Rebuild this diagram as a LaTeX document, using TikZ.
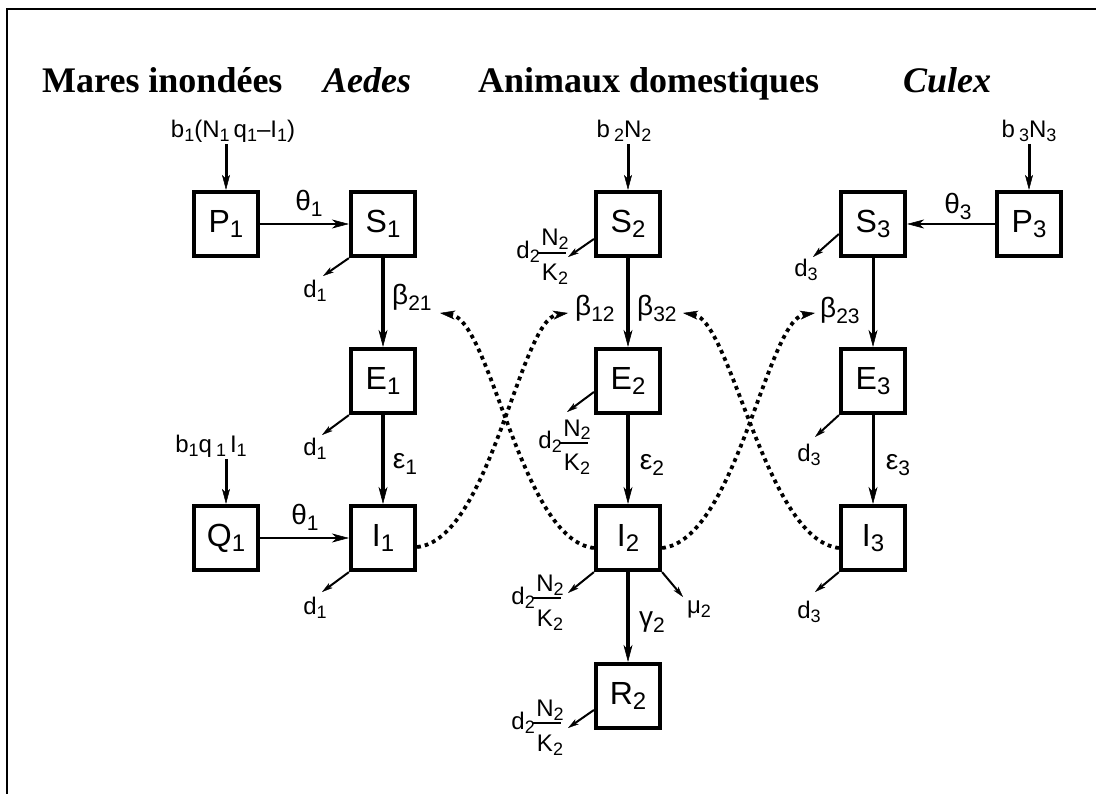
\documentclass[tikz,border=0pt]{standalone}
\usepackage{fontspec}
\setmainfont{Liberation Serif}
\newfontfamily\hv{Liberation Sans}
\usetikzlibrary{arrows.meta}

% lowered indices at three sizes
\newcommand\ibig[1]{\raisebox{-5pt}{\fontsize{24}{24}\selectfont #1}}
\newcommand\imid[1]{\raisebox{-6pt}{\fontsize{21}{21}\selectfont #1}}
\newcommand\isml[1]{\raisebox{-4pt}{\fontsize{18}{18}\selectfont #1}}

\tikzset{
  comp/.style={draw, line width=4.2pt, minimum size=64pt, inner sep=0pt,
    font=\hv\fontsize{32}{32}\selectfont},
  rate/.style={inner sep=0pt, font=\hv\fontsize{28}{28}\selectfont},
  small/.style={inner sep=0pt, font=\hv\fontsize{24}{24}\selectfont},
  feedlab/.style={inner sep=0pt, font=\hv\fontsize{24}{24}\selectfont},
  title/.style={inner sep=0pt, anchor=base west, font=\fontsize{36}{36}\selectfont\bfseries},
  flow/.style={line width=3.5pt, -{Stealth[length=17pt,width=9pt,inset=5pt,line width=0.5pt]}},
  hflow/.style={line width=2.6pt, -{Stealth[length=17pt,width=9pt,inset=5pt,line width=0.5pt]}},
  feed/.style={line width=3pt, -{Stealth[length=15pt,width=8pt,inset=4pt,line width=0.5pt]}},
  loss/.style={line width=2pt, -{Stealth[length=11pt,width=6pt,inset=3pt,line width=0.3pt]}},
  contact/.style={line width=3.8pt, dash pattern=on 3.8pt off 4pt,
    -{Stealth[length=15pt,width=9pt,inset=4pt,line width=0.5pt]}},
  dNK/.pic={
    \draw[line width=2.8pt] (-14,0) -- (14,0);
    \node[small, anchor=base] at (3,-7) {N\isml{2}};
    \node[small, anchor=base] at (3,28) {K\isml{2}};
    \node[small, anchor=base east] at (-12,6) {d\isml{2}};
  }
}

\begin{document}
\begin{tikzpicture}[x=1pt, y=-1pt]
\useasboundingbox (0,0) rectangle (1096,794);
\clip (0,0) rectangle (1096,794);
\fill[white] (0,0) rectangle (1096,794);
\draw[line width=2pt] (7,800) -- (7,9) -- (1100,9);

% headings
\node[title] (h1) at (42,93) {Mares inondées};
\node[title, font=\fontsize{36}{36}\selectfont\bfseries\itshape] (h2) at (323,93) {Aedes};
\node[title] (h3) at (478,93) {Animaux domestiques};
\node[title, font=\fontsize{36}{36}\selectfont\bfseries\itshape] (h4) at (903,93) {Culex};

% compartments
\node[comp] (P1) at (226,224) {P\ibig{1}};
\node[comp] (S1) at (383,224) {S\ibig{1}};
\node[comp] (E1) at (383,381) {E\ibig{1}};
\node[comp] (I1) at (383,538) {I\ibig{1}};
\node[comp] (Q1) at (226,538) {Q\ibig{1}};
\node[comp] (S2) at (628,224) {S\ibig{2}};
\node[comp] (E2) at (628,381) {E\ibig{2}};
\node[comp] (I2) at (628,538) {I\ibig{2}};
\node[comp] (R2) at (628,696) {R\ibig{2}};
\node[comp] (S3) at (873,224) {S\ibig{3}};
\node[comp] (E3) at (873,381) {E\ibig{3}};
\node[comp] (I3) at (873,538) {I\ibig{3}};
\node[comp] (P3) at (1029,224) {P\ibig{3}};

% recruitment
\node[feedlab] (in1) at (233,131) {b\isml{1}(N\isml{1}\,q\isml{1}–I\isml{1})};
\node[feedlab] (in2) at (624,131) {b\,\isml{2}N\isml{2}};
\node[feedlab] (in3) at (1029,131) {b\,\isml{3}N\isml{3}};
\node[feedlab] (in4) at (211,446) {b\isml{1}q\,\isml{1}\,I\isml{1}};
\draw[feed] (P1 |- in1.south) ++(0,2) -- (P1.north);
\draw[feed] (S2 |- in2.south) ++(0,2) -- (S2.north);
\draw[feed] (P3 |- in3.south) ++(0,2) -- (P3.north);
\draw[feed] (Q1 |- in4.south) ++(0,2) -- (Q1.north);

% transitions
\draw[hflow] (P1) -- (S1);
\draw[hflow] (Q1) -- (I1);
\draw[hflow] (P3) -- (S3);
\draw[flow] (S1) -- (E1);
\draw[flow] (E1) -- (I1);
\draw[flow] (S2) -- (E2);
\draw[flow] (E2) -- (I2);
\draw[flow, line width=4.5pt] (I2) -- (R2);
\draw[flow, line width=3pt] (S3) -- (E3);
\draw[flow, line width=3pt] (E3) -- (I3);

\node[rate] (t1) at (309,203) {θ\imid{1}};
\node[rate] (t1b) at (305,517) {θ\imid{1}};
\node[rate] (t3) at (958,206) {θ\imid{3}};
\node[rate] (e1) at (405,464) {ε\imid{1}};
\node[rate] (e2) at (652,465) {ε\imid{2}};
\node[rate] (e3) at (898,465) {ε\imid{3}};
\node[rate] (g2) at (652,622) {γ\imid{2}};
\node[rate, anchor=base west] (b21) at (392,305) {β\imid{21}};
\node[rate, anchor=base west] (b12) at (575,316) {β\imid{12}};
\node[rate, anchor=base west] (b32) at (637,316) {β\imid{32}};
\node[rate, anchor=base west] (b23) at (820,318) {β\imid{23}};

% transmission between hosts and vectors
\coordinate (c21) at (440,313);
\coordinate (c12) at (568,313);
\coordinate (c32) at (683,313);
\coordinate (c23) at (815,313);
\draw[contact] ([yshift=-9pt]I1.east) .. controls (490,540) and (520,320) .. (c12);
\draw[contact] ([yshift=-10pt]I2.west) .. controls (521,540) and (491,320) .. (c21);
\draw[contact] ([yshift=-10pt]I2.east) .. controls (736,540) and (767,320) .. (c23);
\draw[contact] ([yshift=-10pt]I3.west) .. controls (766,540) and (731,320) .. (c32);

% mortality
\coordinate (mS1) at (323,276);
\coordinate (mE1) at (322,435);
\coordinate (mI1) at (322,592);
\coordinate (mS2) at (568,257);
\coordinate (mE2) at (567,412);
\coordinate (mI2) at (568,593);
\coordinate (uI2) at (683,597);
\coordinate (mR2) at (568,728);
\coordinate (mS3) at (813,257);
\coordinate (mE3) at (815,437);
\coordinate (mI3) at (815,592);
\draw[loss] (S1.south west) -- (mS1);
\draw[loss] (E1.south west) -- (mE1);
\draw[loss] (I1.south west) -- (mI1);
\draw[loss] ([yshift=-15pt]S2.west) -- (mS2);
\draw[loss] ([yshift=-11pt]E2.west) -- (mE2);
\draw[loss] (I2.south west) -- (mI2);
\draw[loss] (I2.south east) -- (uI2);
\draw[loss] ([yshift=-14pt]R2.west) -- (mR2);
\draw[loss] ([yshift=-10pt]S3.west) -- (mS3);
\draw[loss] (E3.south west) -- (mE3);
\draw[loss] (I3.south west) -- (mI3);

\node[small] (dS1) at (315,291) {d\isml{1}};
\node[small] (dE1) at (315,449) {d\isml{1}};
\node[small] (dI1) at (315,608) {d\isml{1}};
\node[small] (dS3) at (806,270) {d\isml{3}};
\node[small] (dE3) at (809,455) {d\isml{3}};
\node[small] (dI3) at (809,612) {d\isml{3}};
\node[small] (uI) at (699,609) {μ\isml{2}};
\pic at (552,253) {dNK};
\pic at (574,443) {dNK};
\pic at (547,598) {dNK};
\pic at (547,723) {dNK};
\end{tikzpicture}
\end{document}
